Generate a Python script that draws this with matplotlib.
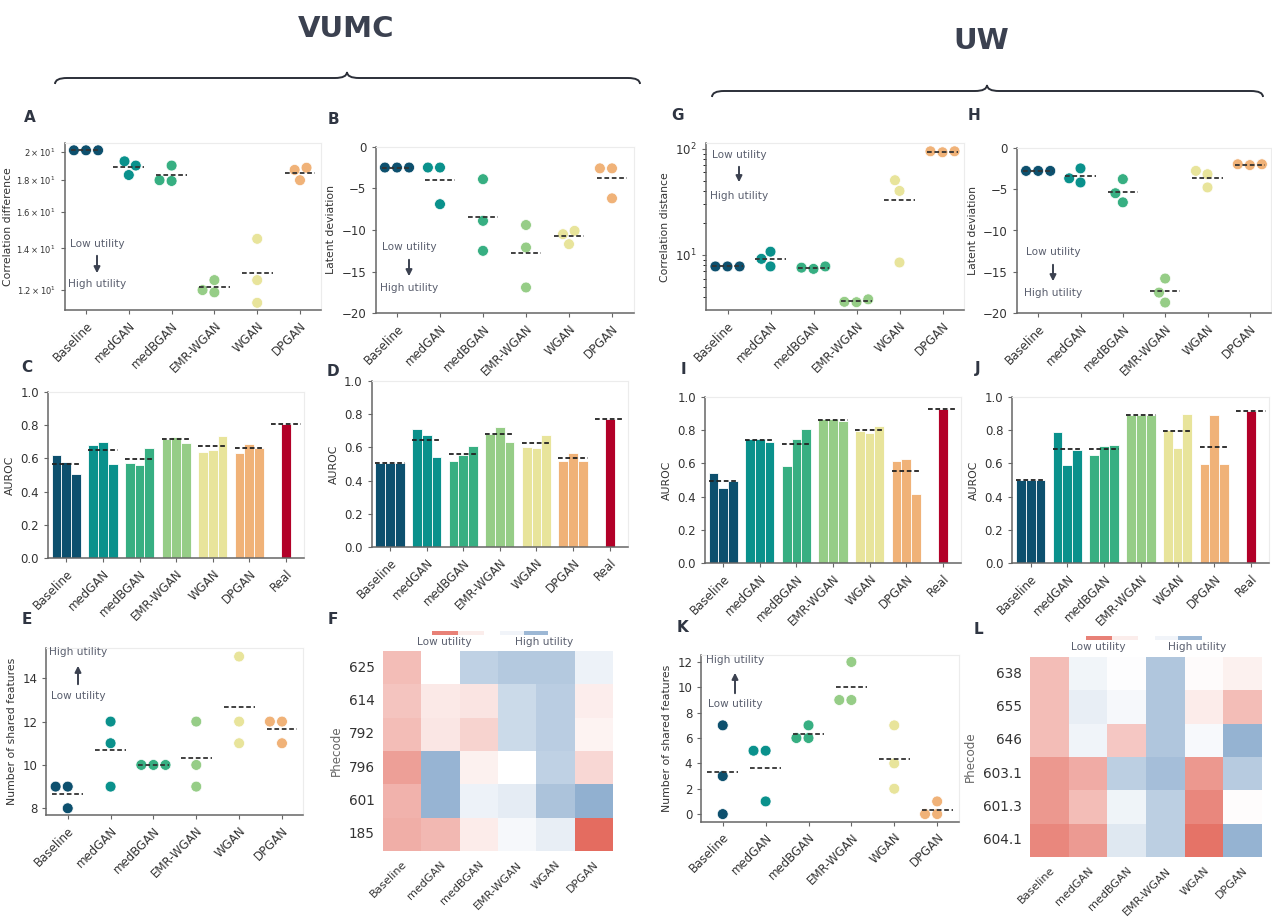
import numpy as np
import pandas as pd
import matplotlib
matplotlib.use('Agg')
import matplotlib.pyplot as plt
import seaborn as sns
from matplotlib.path import Path
from matplotlib.patches import PathPatch
from matplotlib.colors import LinearSegmentedColormap
from matplotlib.ticker import NullLocator

W, H = 1272, 917

# --- DATA ---
MODELS = ['Baseline', 'medGAN', 'medBGAN', 'EMR-WGAN', 'WGAN', 'DPGAN']
COLORS = ['#0d506e', '#0a918c', '#37af82', '#96cd87', '#e8e49b', '#f0b278']
REAL_COLOR = '#b20028'

# VUMC
corr_diff_vumc = [[20.1, 20.1, 20.1], [19.3, 19.0, 18.35], [19.0, 18.0, 17.95],
                  [12.45, 12.0, 11.9], [14.5, 12.45, 11.45], [18.85, 18.7, 18.0]]
latent_vumc = [[-2.5, -2.5, -2.5], [-2.5, -2.5, -6.9], [-3.9, -8.9, -12.5],
               [-9.4, -12.1, -16.9], [-10.1, -10.5, -11.7], [-2.6, -2.6, -6.2]]
auroc_c = [[0.62, 0.58, 0.504], [0.68, 0.70, 0.564], [0.57, 0.562, 0.66],
           [0.716, 0.73, 0.694], [0.638, 0.65, 0.736], [0.63, 0.688, 0.664]]
auroc_c_real = 0.804
auroc_d = [[0.508, 0.504, 0.504], [0.71, 0.674, 0.542], [0.52, 0.552, 0.61],
           [0.682, 0.724, 0.634], [0.604, 0.598, 0.672], [0.516, 0.568, 0.518]]
auroc_d_real = 0.772
shared_vumc = [[9, 9, 8], [12, 11, 9], [10, 10, 10], [12, 10, 9], [15, 12, 11], [12, 12, 11]]
phecodes_vumc = ['625', '614', '792', '796', '601', '185']
heat_vumc = [[-0.45, 0.0, 0.55, 0.65, 0.65, 0.15],
             [-0.40, -0.15, -0.18, 0.45, 0.60, -0.12],
             [-0.45, -0.17, -0.30, 0.45, 0.60, -0.08],
             [-0.65, 0.90, -0.10, 0.0, 0.55, -0.27],
             [-0.52, 0.90, 0.15, 0.22, 0.72, 0.95],
             [-0.55, -0.48, -0.13, 0.08, 0.20, -1.0]]

# UW
corr_dist_uw = [[7.8, 7.8, 7.8], [10.75, 9.2, 7.8], [7.6, 7.4, 7.8],
                [3.62, 3.59, 3.82], [50.7, 40.2, 8.5], [95, 93, 95]]
latent_uw = [[-2.8, -2.8, -2.8], [-2.5, -3.7, -4.2], [-3.8, -5.5, -6.6],
             [-15.8, -17.5, -18.7], [-2.8, -3.2, -4.8], [-2.0, -2.1, -2.0]]
auroc_i = [[0.54, 0.45, 0.494], [0.746, 0.746, 0.726], [0.586, 0.748, 0.808],
           [0.868, 0.866, 0.854], [0.796, 0.78, 0.826], [0.612, 0.626, 0.418]]
auroc_i_real = 0.924
auroc_j = [[0.5, 0.5, 0.5], [0.79, 0.588, 0.68], [0.65, 0.706, 0.71],
           [0.888, 0.888, 0.888], [0.798, 0.692, 0.896], [0.598, 0.892, 0.598]]
auroc_j_real = 0.914
shared_uw = [[7, 3, 0], [5, 5, 1], [7, 6, 6], [12, 9, 9], [7, 4, 2], [1, 0, 0]]
phecodes_uw = ['638', '655', '646', '603.1', '601.3', '604.1']
heat_uw = [[-0.45, 0.12, 0.02, 0.68, -0.03, -0.10],
           [-0.45, 0.20, 0.08, 0.68, -0.13, -0.45],
           [-0.45, 0.13, -0.38, 0.68, 0.07, 0.92],
           [-0.70, -0.57, 0.58, 0.78, -0.70, 0.62],
           [-0.70, -0.45, 0.14, 0.58, -0.82, -0.02],
           [-0.82, -0.68, 0.28, 0.58, -0.95, 0.92]]

HEAT_CMAP = LinearSegmentedColormap.from_list('utility', ['#e46c60', '#ffffff', '#8cacce'])
TEXT = '#333333'
SOFT = '#5a5f6e'


def rect(l, t, r, b):
    return [l / W, 1 - b / H, (r - l) / W, (b - t) / H]


def style_axes(ax):
    for s in ['left', 'bottom']:
        ax.spines[s].set_color('#666666')
        ax.spines[s].set_linewidth(1.1)
    for s in ['top', 'right']:
        ax.spines[s].set_color('#ececec')
        ax.spines[s].set_linewidth(0.8)
    ax.tick_params(colors=TEXT, labelsize=8.5, length=3, width=0.8)
    ax.tick_params(color='#666666')


def model_ticks(ax, names):
    ax.set_xticks(range(len(names)))
    ax.set_xticklabels(names, rotation=45, ha='right', rotation_mode='anchor')
    ax.set_xlabel('')


def swarm_panel(ax, values, ylabel, ylim, log=False):
    xs = [m for m, v in zip(MODELS, values) for _ in v]
    ys = [y for v in values for y in v]
    df = pd.DataFrame({'model': xs, 'value': ys})
    if log:
        ax.set_yscale('log')
    ax.set_ylim(*ylim)
    sns.swarmplot(data=df, x='model', y='value', hue='model', order=MODELS,
                  hue_order=MODELS, palette=COLORS, size=7.8, ax=ax, legend=False,
                  edgecolor='white', linewidth=0.5)
    for i, v in enumerate(values):
        ax.hlines(np.mean(v), i - 0.36, i + 0.36, colors='#333333',
                  linestyles=(0, (2.6, 1.5)), lw=1.3, zorder=5)
    ax.set_xlim(-0.5, 5.5)
    ax.set_ylim(*ylim)
    ax.set_ylabel(ylabel, fontsize=7.8, color=TEXT)
    model_ticks(ax, MODELS)
    style_axes(ax)


def bar_panel(ax, values, real):
    w = 0.8 / 3
    for i, v in enumerate(values):
        for j, y in enumerate(v):
            ax.bar(i + (j - 1) * w, y, width=w, color=COLORS[i],
                   edgecolor='white', linewidth=0.6)
        ax.hlines(np.mean(v), i - 0.4, i + 0.4, colors='#222222',
                  linestyles=(0, (2.6, 1.5)), lw=1.3, zorder=5)
    ax.bar(6, real, width=w, color=REAL_COLOR, edgecolor='white', linewidth=0.6)
    ax.hlines(real, 5.6, 6.4, colors='#222222', linestyles=(0, (2.6, 1.5)), lw=1.3, zorder=5)
    ax.set_xlim(-0.5, 6.5)
    ax.set_ylim(0, 1)
    ax.set_yticks(np.arange(0, 1.01, 0.2))
    ax.set_ylabel('AUROC', fontsize=7.8, color=TEXT)
    model_ticks(ax, MODELS + ['Real'])
    style_axes(ax)


def heat_panel(ax, values, rows):
    sns.heatmap(np.array(values), ax=ax, cmap=HEAT_CMAP, vmin=-1, vmax=1,
                cbar=False, xticklabels=MODELS, yticklabels=rows)
    ax.set_xticklabels(MODELS, rotation=45, ha='right', rotation_mode='anchor',
                       fontsize=8.0, color=TEXT)
    ax.set_yticklabels(rows, rotation=0, fontsize=9.8, color=TEXT)
    ax.tick_params(length=0, pad=6)
    ax.set_ylabel('Phecode', fontsize=8.6, color='#666666')


def utility_bars(fig, lo, hi, y):
    # two small legend strips above a heatmap
    for (x0, x1), vals in [(lo, [-0.85, -0.12]), (hi, [0.12, 0.85])]:
        cax = fig.add_axes(rect(x0, y - 2, x1, y + 2))
        cax.imshow([vals], cmap=HEAT_CMAP, vmin=-1, vmax=1, aspect='auto',
                   interpolation='nearest')
        cax.axis('off')


fig = plt.figure(figsize=(W / 100, H / 100), dpi=100)

# row 1
ax_a = fig.add_axes(rect(64.6, 143, 321.4, 310))
swarm_panel(ax_a, corr_diff_vumc, 'Correlation difference', (11.15, 20.65), log=True)
ax_a.yaxis.set_minor_locator(NullLocator())
a_ticks = [12, 14, 16, 18, 20]
ax_a.set_yticks(a_ticks)
ax_a.set_yticklabels([r'$1.2\times10^{1}$', r'$1.4\times10^{1}$', r'$1.6\times10^{1}$',
                      r'$1.8\times10^{1}$', r'$2\times10^{1}$'], fontsize=6)
ax_a.yaxis.labelpad = 2

ax_b = fig.add_axes(rect(375.5, 146.7, 633.5, 313.3))
swarm_panel(ax_b, latent_vumc, 'Latent deviation', (-20, 0))

ax_g = fig.add_axes(rect(706, 143.3, 964, 310))
swarm_panel(ax_g, corr_dist_uw, 'Correlation distance', (3.03, 113), log=True)

ax_h = fig.add_axes(rect(1017, 147.7, 1271, 313.3))
swarm_panel(ax_h, latent_uw, 'Latent deviation', (-20, 0))

# row 2
ax_c = fig.add_axes(rect(48, 391.7, 304.3, 558.3))
bar_panel(ax_c, auroc_c, auroc_c_real)
ax_d = fig.add_axes(rect(371.7, 380.7, 628, 547.3))
bar_panel(ax_d, auroc_d, auroc_d_real)
ax_i = fig.add_axes(rect(705, 396.7, 961, 563.3))
bar_panel(ax_i, auroc_i, auroc_i_real)
ax_j = fig.add_axes(rect(1012.3, 396.7, 1269.4, 563.3))
bar_panel(ax_j, auroc_j, auroc_j_real)

# row 3
ax_e = fig.add_axes(rect(46.3, 648.3, 303.4, 815))
swarm_panel(ax_e, shared_vumc, 'Number of shared features', (7.69, 15.38))
ax_e.set_yticks([8, 10, 12, 14])
ax_k = fig.add_axes(rect(701.3, 655, 958.6, 821.7))
swarm_panel(ax_k, shared_uw, 'Number of shared features', (-0.6, 12.55))
ax_k.set_yticks(range(0, 13, 2))

ax_f = fig.add_axes(rect(383, 651, 613, 851))
heat_panel(ax_f, heat_vumc, phecodes_vumc)
utility_bars(fig, (432, 484), (500, 548), 633)
ax_l = fig.add_axes(rect(1030, 657, 1262, 857))
heat_panel(ax_l, heat_uw, phecodes_uw)
utility_bars(fig, (1086, 1138), (1155, 1201), 638)

# --- overlay: titles, braces, panel letters, utility notes ---
ov = fig.add_axes([0, 0, 1, 1])
ov.set_xlim(0, W)
ov.set_ylim(H, 0)
ov.axis('off')
ov.patch.set_alpha(0)
ov.set_zorder(10)


def brace(x0, x1, xm, y, h, r=12):
    verts = [(x0, y + h), (x0, y), (x0 + r, y), (xm - r, y), (xm, y), (xm, y - h),
             (xm, y), (xm + r, y), (x1 - r, y), (x1, y), (x1, y + h)]
    codes = [Path.MOVETO, Path.CURVE3, Path.CURVE3, Path.LINETO, Path.CURVE3, Path.CURVE3,
             Path.CURVE3, Path.CURVE3, Path.LINETO, Path.CURVE3, Path.CURVE3]
    ov.add_patch(PathPatch(Path(verts, codes), fill=False, lw=1.4, ec='#2b2f38'))


ov.text(346, 29, 'VUMC', fontsize=21, fontweight='bold', color='#3b4150', ha='center', va='center')
ov.text(981, 41, 'UW', fontsize=21, fontweight='bold', color='#3b4150', ha='center', va='center')
brace(55, 640, 347, 78, 6)
brace(712, 1263, 987, 91, 6)

letters = {'A': (30, 118), 'B': (333, 119), 'G': (678, 115), 'H': (974, 116),
           'C': (27, 367), 'D': (333, 372), 'I': (683, 369), 'J': (978, 369),
           'E': (27, 619), 'F': (333, 619), 'K': (683, 628), 'L': (978, 629)}
for k, (x, y) in letters.items():
    ov.text(x, y, k, fontsize=11, fontweight='bold', color='#2f3542', ha='center', va='center')

# heatmap legend captions
for x, y, s in [(444, 642, 'Low utility'), (544, 642, 'High utility'),
                (1098, 647, 'Low utility'), (1197, 647, 'High utility')]:
    ov.text(x, y, s, fontsize=7.6, color=SOFT, ha='center', va='center')


def utility_note(x, y_top, y_bot, a0, a1, down=True):
    top, bot = ('Low utility', 'High utility') if down else ('High utility', 'Low utility')
    ov.text(x, y_top, top, fontsize=7.6, color=SOFT, ha='center', va='center')
    ov.text(x, y_bot, bot, fontsize=7.6, color=SOFT, ha='center', va='center')
    ov.annotate('', xy=(x, a1), xytext=(x, a0),
                arrowprops=dict(arrowstyle='-|>', color='#3b4150', lw=1.4, mutation_scale=9))


utility_note(97, 244, 284, 253, 276)
utility_note(409, 247, 288, 257, 279)
utility_note(739, 155, 196, 164, 185)
utility_note(1053, 252, 293, 262, 284)
utility_note(78, 652, 696, 687, 663, down=False)
utility_note(735, 660, 704, 696, 670, down=False)

fig.savefig('out.png', dpi=100)
